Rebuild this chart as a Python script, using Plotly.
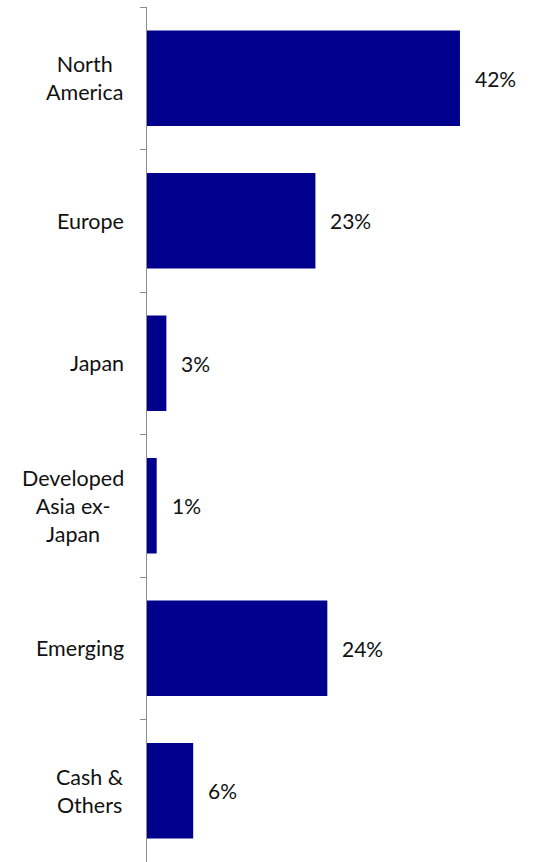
import plotly.graph_objects as go

categories = ["North<br>America", "Europe", "Japan", "Developed<br>Asia ex-<br>Japan", "Emerging", "Cash &<br>Others"]
values = [42.0, 22.6, 2.6, 1.3, 24.2, 6.2]
value_labels = ["42%", "23%", "3%", "1%", "24%", "6%"]

FONT = "Lato, 'Noto Sans', sans-serif"
BAR = "#00008C"

fig = go.Figure()
fig.add_trace(go.Bar(
    y=categories, x=values, orientation="h",
    marker=dict(color=BAR, line=dict(width=0)),
    hoverinfo="skip",
))

annotations = []
for cat, v, lab in zip(categories, values, value_labels):
    annotations.append(dict(
        x=v, y=cat, xref="x", yref="y", text=lab, showarrow=False,
        xanchor="left", yanchor="middle", xshift=13,
        font=dict(family=FONT, size=21, color="#111111"),
    ))
    annotations.append(dict(
        x=0, y=cat, xref="paper", yref="y", text=cat, showarrow=False,
        xanchor="right", yanchor="middle", xshift=-21, align="center",
        font=dict(family=FONT, size=21.5, color="#111111"),
    ))

fig.update_layout(
    width=535, height=862,
    margin=dict(l=147, r=0, t=7, b=0),
    paper_bgcolor="white", plot_bgcolor="white",
    showlegend=False,
    bargap=0.33,
    annotations=annotations,
    xaxis=dict(range=[0, 52.07], visible=False, showgrid=False, zeroline=False),
    yaxis=dict(
        autorange="reversed", type="category",
        showticklabels=False, showgrid=False, zeroline=False,
        showline=True, linecolor="#8C8C8C", linewidth=1,
        ticks="outside", tickson="boundaries", ticklen=6, tickcolor="#8C8C8C", tickwidth=1,
    ),
)

fig.write_html("out.html")
